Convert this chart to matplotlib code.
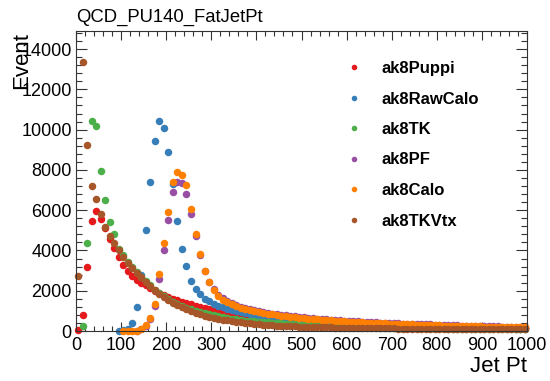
import numpy as np
import matplotlib
matplotlib.use("Agg")
import matplotlib.pyplot as plt
from matplotlib.lines import Line2D
from matplotlib.ticker import MultipleLocator

# Jet pT histograms, 10 GeV bins from 0 to 1000
bin_width = 10
pt_bins = np.arange(bin_width / 2, 1000, bin_width)

ak8Puppi = [
    40, 770, 3170, 5470, 5980, 5580, 5130, 4560, 4110, 3700,
    3280, 2980, 2740, 2540, 2390, 2270, 2140, 2010, 1890, 1780,
    1690, 1600, 1520, 1450, 1380, 1320, 1260, 1200, 1150, 1100,
    1050, 1005, 965, 925, 890, 855, 822, 790, 760, 732,
    705, 680, 655, 632, 610, 590, 570, 551, 533, 516,
    500, 484, 469, 455, 441, 428, 415, 403, 392, 381,
    370, 360, 350, 341, 332, 323, 315, 307, 299, 292,
    285, 278, 271, 265, 259, 253, 247, 242, 236, 231,
    226, 221, 217, 212, 208, 204, 200, 196, 192, 188,
    185, 181, 178, 175, 171, 168, 165, 162, 160, 157,
]

ak8RawCalo = [
    0, 0, 0, 0, 0, 0, 0, 0, 0, 20,
    40, 110, 380, 1180, 2800, 5020, 7380, 9450, 10420, 10080,
    8880, 7280, 5470, 4050, 3250, 2500, 2080, 1830, 1580, 1470,
    1350, 1260, 1180, 1110, 1045, 985, 930, 880, 833, 790,
    750, 713, 678, 646, 616, 588, 562, 537, 514, 492,
    472, 453, 435, 418, 402, 387, 373, 360, 347, 335,
    324, 313, 303, 293, 284, 275, 267, 259, 251, 244,
    237, 230, 224, 218, 212, 206, 201, 196, 191, 186,
    181, 177, 173, 169, 165, 161, 157, 154, 150, 147,
    144, 141, 138, 135, 132, 129, 127, 124, 122, 120,
]

ak8TK = [
    0, 250, 4350, 10420, 10200, 7930, 6500, 5400, 4830, 4050,
    3760, 3440, 3170, 2930, 2700, 2480, 2260, 2060, 1880, 1720,
    1580, 1450, 1340, 1240, 1150, 1070, 1000, 935, 875, 820,
    770, 724, 682, 643, 607, 574, 543, 515, 500, 484,
    470, 448, 428, 409, 391, 374, 358, 343, 329, 316,
    304, 292, 281, 271, 261, 252, 243, 235, 227, 220,
    213, 206, 200, 194, 188, 183, 178, 173, 168, 164,
    160, 156, 152, 148, 145, 142, 139, 136, 133, 130,
    127, 125, 122, 120, 118, 116, 114, 112, 110, 108,
    106, 104, 103, 101, 100, 98, 97, 96, 94, 93,
]

ak8PF = [
    0, 0, 0, 0, 0, 0, 0, 0, 0, 0,
    0, 0, 0, 20, 100, 250, 600, 1220, 2600, 4020,
    5520, 6880, 7400, 7330, 6800, 5800, 4700, 3750, 2980, 2450,
    2100, 1800, 1620, 1490, 1380, 1290, 1210, 1145, 1085, 1030,
    985, 943, 905, 869, 835, 804, 775, 748, 722, 698,
    675, 653, 632, 612, 593, 575, 558, 542, 527, 512,
    498, 485, 472, 460, 448, 437, 426, 416, 406, 396,
    387, 378, 369, 361, 353, 345, 338, 331, 324, 317,
    305, 298, 291, 284, 277, 271, 265, 259, 253, 248,
    243, 238, 233, 228, 223, 219, 215, 211, 207, 203,
]

ak8Calo = [
    0, 0, 0, 0, 0, 0, 0, 0, 0, 0,
    10, 8, 5, 20, 120, 280, 670, 1330, 2830, 4350,
    5920, 7380, 7900, 7760, 7240, 6070, 4800, 3830, 3000, 2420,
    2050, 1750, 1560, 1430, 1320, 1230, 1150, 1090, 1030, 980,
    935, 895, 858, 823, 790, 760, 732, 706, 681, 658,
    636, 615, 595, 576, 558, 541, 525, 510, 495, 481,
    468, 455, 443, 431, 420, 409, 399, 389, 379, 370,
    361, 352, 344, 336, 328, 320, 313, 306, 299, 292,
    280, 273, 266, 259, 253, 247, 241, 235, 230, 225,
    220, 215, 210, 205, 200, 196, 192, 188, 184, 180,
]

ak8TKVtx = [
    2750, 13380, 9250, 7200, 6540, 5820, 5170, 4720, 4380, 4000,
    3680, 3380, 3120, 2880, 2660, 2450, 2240, 2040, 1860, 1690,
    1540, 1400, 1280, 1170, 1070, 980, 900, 830, 765, 705,
    650, 605, 563, 525, 490, 458, 428, 401, 376, 352,
    330, 312, 296, 281, 268, 256, 245, 235, 226, 218,
    210, 203, 196, 190, 184, 179, 174, 169, 165, 161,
    157, 153, 149, 146, 143, 140, 137, 134, 131, 129,
    126, 124, 121, 119, 117, 115, 113, 111, 109, 107,
    105, 103, 102, 100, 98, 97, 95, 94, 92, 91,
    90, 88, 87, 86, 85, 84, 83, 82, 81, 80,
]

series_names = ["ak8Puppi", "ak8RawCalo", "ak8TK", "ak8PF", "ak8Calo", "ak8TKVtx"]
series_values = [ak8Puppi, ak8RawCalo, ak8TK, ak8PF, ak8Calo, ak8TKVtx]
series_colors = ["#e41a1c", "#377eb8", "#4daf4a", "#984ea3", "#ff7f00", "#a65628"]

title_text = "QCD_PU140_FatJetPt"
x_title = "Jet Pt"
y_title = "Event"

plt.rcParams["font.family"] = ["Liberation Sans", "DejaVu Sans"]

fig = plt.figure(figsize=(5.5, 3.81), dpi=100)
ax = fig.add_axes([76 / 550, 50 / 381, 451 / 550, 300 / 381])

for name, vals, col in zip(series_names, series_values, series_colors):
    v = np.asarray(vals, dtype=float)
    keep = v > 0  # empty bins are not drawn
    ax.plot(pt_bins[keep], v[keep], linestyle="none", marker="o",
            markersize=5.4, markeredgewidth=0, color=col, clip_on=False)

ax.set_xlim(0, 1000)
ax.set_ylim(0, 14900)

ax.xaxis.set_major_locator(MultipleLocator(100))
ax.xaxis.set_minor_locator(MultipleLocator(20))
ax.yaxis.set_major_locator(MultipleLocator(2000))
ax.yaxis.set_minor_locator(MultipleLocator(400))

ax.tick_params(axis="both", which="both", direction="in", top=True, right=True,
               width=0.8, color="#333333", labelsize=13)
ax.tick_params(axis="x", which="major", length=6.5, pad=4)
ax.tick_params(axis="x", which="minor", length=3.3)
ax.tick_params(axis="y", which="major", length=8, pad=3)
ax.tick_params(axis="y", which="minor", length=4)
for sp in ax.spines.values():
    sp.set_linewidth(0.8)
    sp.set_color("#333333")

fig.text(76 / 550, 1 - 17 / 381, title_text, ha="left", va="center", fontsize=13.3)
fig.text(527 / 550, 1 - 367 / 381, x_title, ha="right", va="center", fontsize=16)
fig.text(22 / 550, 1 - 32 / 381, y_title, ha="center", va="top", rotation=90, fontsize=16)

handles = [Line2D([], [], linestyle="none", marker="o", markersize=4,
                  markeredgewidth=0, color=c) for c in series_colors]
ax.legend(handles, series_names, loc="upper left",
          bbox_to_anchor=(346 / 550, 1 - 61 / 381), bbox_transform=fig.transFigure,
          frameon=False, borderpad=0, borderaxespad=0, handlelength=1.0,
          handletextpad=1.1, labelspacing=0.93, prop={"weight": "bold", "size": 12})

fig.savefig("out.png", dpi=100)
